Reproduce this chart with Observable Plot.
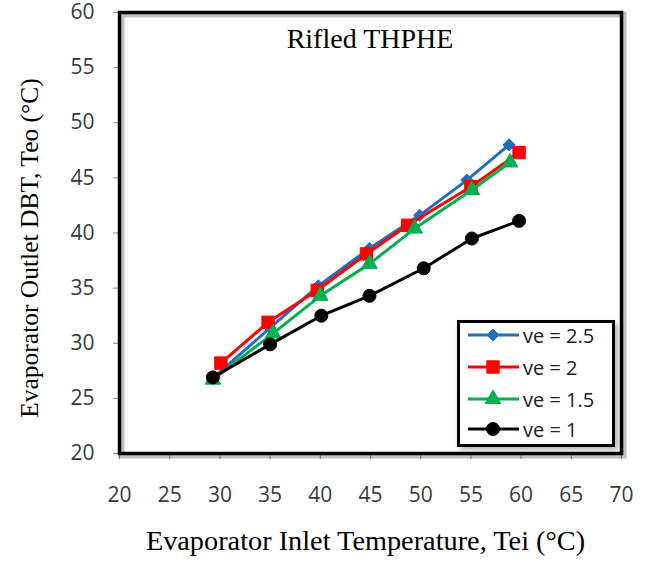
<!DOCTYPE html>
<html>
<head>
<meta charset="utf-8">
<script src="https://cdn.jsdelivr.net/npm/d3@7"></script>
<script src="https://cdn.jsdelivr.net/npm/@observablehq/plot@0.6"></script>
<style>
  body { margin: 0; background: #fff; }
  #wrap { position: relative; width: 646px; height: 562px; }
  g[aria-label="x-axis tick"], g[aria-label="y-axis tick"] { stroke: #8c8c8c; }
  #legend {
    position: absolute; left: 457px; top: 320px; width: 158px; height: 127px;
    box-sizing: border-box; border: 3px solid #000; background: #fff;
    box-shadow: 3px 3px 5px rgba(0,0,0,0.3);
    font-family: "Open Sans", sans-serif; font-size: 20px; color: #222;
  }
  .row { position: absolute; left: 8px; height: 24px; display: flex; align-items: center; white-space: nowrap; }
  .row svg { margin-right: 3px; }
</style>
</head>
<body>
<div id="wrap"></div>
<script>
// Evaporator air velocities (m/s) and their styling
const seriesNames = ["ve = 2.5", "ve = 2", "ve = 1.5", "ve = 1"];
const colors = ["#1f70c1", "#ff0000", "#00b050", "#000000"];
const symbols = ["diamond2", "square", "triangle", "circle"];
const dotRadius = [5.5, 7, 5.8, 6.5];

// Evaporator inlet temperature Tei (°C) per series
const tei25 = [29.4, 35.0, 39.8, 44.9, 49.9, 54.6, 58.8];
const tei20 = [30.1, 34.8, 39.7, 44.6, 48.7, 55.0, 59.8];
const tei15 = [29.3, 35.3, 40.0, 44.9, 49.4, 55.1, 58.9];
const tei10 = [29.3, 35.0, 40.1, 44.9, 50.3, 55.1, 59.8];

// Evaporator outlet DBT Teo (°C) per series
const teo25 = [26.9, 31.4, 35.2, 38.6, 41.6, 44.8, 48.0];
const teo20 = [28.2, 31.9, 34.8, 38.1, 40.7, 44.2, 47.3];
const teo15 = [26.7, 30.9, 34.3, 37.2, 40.4, 43.9, 46.4];
const teo10 = [26.9, 29.9, 32.5, 34.3, 36.8, 39.5, 41.1];

const xTicks = [20, 25, 30, 35, 40, 45, 50, 55, 60, 65, 70];
const yTicks = [20, 25, 30, 35, 40, 45, 50, 55, 60];

const titleText = "Rifled THPHE";
const xLabel = "Evaporator Inlet Temperature, Tei (°C)";
const yLabel = "Evaporator Outlet DBT, Teo (°C)";

const teiAll = [tei25, tei20, tei15, tei10];
const teoAll = [teo25, teo20, teo15, teo10];

const series = seriesNames.map((name, i) =>
  teiAll[i].map((x, j) => ({series: name, tei: x, teo: teoAll[i][j]}))
);

const serif = "'Liberation Serif', 'Times New Roman', serif";

const marks = [
  Plot.frame({stroke: "#000", strokeOpacity: 0.25, strokeWidth: 6, dx: 2, dy: 2, ariaLabel: "frame shadow"}),
  Plot.text([titleText], {frameAnchor: "top", dx: -0.5, dy: 26.4, lineAnchor: "middle", fontFamily: serif, fontSize: 28, fill: "#000", ariaLabel: "title"}),
];

series.forEach((rows, i) => {
  marks.push(
    Plot.line(rows, {x: "tei", y: "teo", stroke: colors[i], strokeWidth: 3}),
    Plot.dot(rows, {x: "tei", y: "teo", symbol: symbols[i], r: dotRadius[i], fill: colors[i], stroke: colors[i], strokeWidth: 1})
  );
});

marks.push(
  Plot.frame({stroke: "#000", strokeWidth: 3.5}),
  Plot.text([xLabel], {frameAnchor: "bottom", dx: -5, dy: 87.4, lineAnchor: "middle", fontFamily: serif, fontSize: 28.3, fill: "#000"}),
  Plot.text([yLabel], {frameAnchor: "left", textAnchor: "middle", rotate: -90, dx: -90, dy: 15, lineAnchor: "middle", fontFamily: serif, fontSize: 25.5, fill: "#000"})
);

const chart = Plot.plot({
  width: 646,
  height: 562,
  marginLeft: 119,
  marginRight: 25,
  marginTop: 12,
  marginBottom: 109,
  style: {fontFamily: "'Open Sans', sans-serif", fontSize: "21px", color: "#3a3a3a", background: "#fff"},
  x: {domain: [20, 70], ticks: xTicks, tickSize: 6, tickPadding: 28, label: null},
  y: {domain: [20, 60], ticks: yTicks, tickSize: 6, tickPadding: 19, label: null},
  marks
});

// soft blur for the frame shadow, drop shadow under the title
const svg = d3.select(chart);
const defs = svg.insert("defs", ":first-child");
defs.append("filter").attr("id", "soft").attr("x", "-10%").attr("y", "-10%").attr("width", "120%").attr("height", "120%")
  .append("feGaussianBlur").attr("stdDeviation", 3);
defs.append("filter").attr("id", "titleShadow").attr("x", "-10%").attr("y", "-50%").attr("width", "120%").attr("height", "200%")
  .append("feDropShadow").attr("dx", 2).attr("dy", 3).attr("stdDeviation", 2)
  .attr("flood-color", "#000").attr("flood-opacity", 0.28);
svg.selectAll('g[aria-label="frame shadow"]').attr("filter", "url(#soft)");
svg.selectAll('g[aria-label="title"]').attr("filter", "url(#titleShadow)");

const wrap = document.getElementById("wrap");
wrap.appendChild(chart);

// legend: line sample with marker, then the series name
const legend = document.createElement("div");
legend.id = "legend";
const rowCenters = [12, 44, 76, 106];
const legendSize = [95, 154, 106, 133];
const d3Symbols = {diamond2: d3.symbolDiamond2, square: d3.symbolSquare, triangle: d3.symbolTriangle, circle: d3.symbolCircle};
seriesNames.forEach((name, i) => {
  const row = document.createElement("div");
  row.className = "row";
  row.style.top = (rowCenters[i] - 12) + "px";
  const s = d3.create("svg").attr("width", 52).attr("height", 24);
  s.append("line").attr("x1", 0).attr("x2", 51).attr("y1", 12).attr("y2", 12)
    .attr("stroke", colors[i]).attr("stroke-width", 3);
  s.append("path").attr("transform", "translate(25,12)")
    .attr("d", d3.symbol(d3Symbols[symbols[i]], legendSize[i])())
    .attr("fill", colors[i]).attr("stroke", colors[i]);
  row.appendChild(s.node());
  const label = document.createElement("span");
  label.textContent = name;
  row.appendChild(label);
  legend.appendChild(row);
});
wrap.appendChild(legend);
</script>
</body>
</html>
